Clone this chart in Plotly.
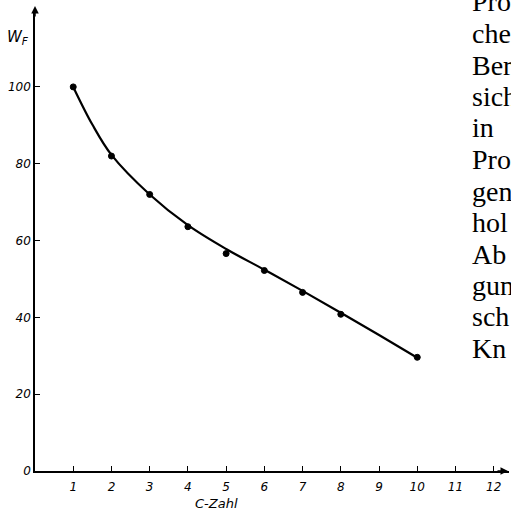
import plotly.graph_objects as go

# Measured points
c_zahl = [1, 2, 3, 4, 5, 6, 7, 8, 10]
w_f = [100, 82, 72, 63.6, 56.6, 52.2, 46.5, 40.8, 29.6]

# Smoothed curve as drawn in the figure
curve_x = [1, 1.5, 2, 3, 4, 5, 6, 7, 8, 9, 10]
curve_y = [100, 90.2, 82.3, 72, 64, 57.8, 52.4, 46.9, 41.2, 35.4, 29.5]

x_ticks = [1, 2, 3, 4, 5, 6, 7, 8, 9, 10, 11, 12]
y_ticks = [0, 20, 40, 60, 80, 100]

page_text = ["Pro", "che", "Ber", "sich", "in", "Pro", "gen", "hol", "Ab", "gun", "sch", "Kn"]

W, H = 511, 511
L, R, T, B = 35, 2, 12, 40
PW, PH = W - L - R, H - T - B

def px(x):
    return (x - L) / PW

def py(y):
    return (H - B - y) / PH

fig = go.Figure()
fig.add_trace(go.Scatter(x=curve_x, y=curve_y, mode="lines",
                         line=dict(color="black", width=2.2, shape="spline", smoothing=1.0),
                         hoverinfo="skip", showlegend=False, cliponaxis=False))
fig.add_trace(go.Scatter(x=c_zahl, y=w_f, mode="markers",
                         marker=dict(color="black", size=6, line=dict(color="black", width=1)),
                         showlegend=False, cliponaxis=False))

tickfont = dict(family="DejaVu Sans", size=12, color="black", style="italic")

fig.update_xaxes(range=[0, 12.4], tickvals=x_ticks, ticktext=[str(v) for v in x_ticks],
                 ticks="inside", ticklen=5, tickcolor="black", tickwidth=1,
                 showline=True, linecolor="black", linewidth=1.5, showgrid=False,
                 zeroline=False, tickfont=tickfont, title=None, automargin=False,
                 ticklabelstandoff=4)
fig.update_yaxes(range=[0, 119.5], tickvals=y_ticks, ticktext=[str(v) for v in y_ticks],
                 ticks="inside", ticklen=5, tickcolor="black", tickwidth=1,
                 showline=True, linecolor="black", linewidth=1.5, showgrid=False,
                 zeroline=False, tickfont=tickfont, title=None, automargin=False)

annotations = []
# axis arrows
annotations.append(dict(x=px(508), y=0, xref="paper", yref="paper", ax=-12, ay=0,
                        showarrow=True, arrowhead=2, arrowsize=1, arrowwidth=1.5,
                        arrowcolor="black", text=""))
annotations.append(dict(x=0, y=py(6), xref="paper", yref="paper", ax=0, ay=12,
                        showarrow=True, arrowhead=2, arrowsize=1, arrowwidth=1.5,
                        arrowcolor="black", text=""))
# axis titles
annotations.append(dict(x=px(216), y=py(503), xref="paper", yref="paper",
                        xanchor="center", yanchor="middle",
                        text="C-Zahl", showarrow=False,
                        font=dict(family="DejaVu Sans", size=13, color="black", style="italic")))
annotations.append(dict(x=px(18), y=py(38), xref="paper", yref="paper",
                        xanchor="center", yanchor="middle",
                        text="W<sub>F</sub>", showarrow=False,
                        font=dict(family="DejaVu Sans", size=15, color="black", style="italic")))
# page text at right (body text of the book page, cut off at the edge)
for i, t in enumerate(page_text):
    annotations.append(dict(x=px(470), y=py(2 + i * 31.5), xref="paper", yref="paper",
                            text=t, showarrow=False, xanchor="left", yanchor="middle",
                            font=dict(family="Liberation Serif", size=28, color="black")))

fig.update_layout(width=W, height=H, margin=dict(l=L, r=R, t=T, b=B),
                  paper_bgcolor="white", plot_bgcolor="white",
                  annotations=annotations, showlegend=False)

fig.write_html("out.html", config={"displayModeBar": False},
               post_script="document.body.style.margin='0';document.body.style.overflow='hidden';")
